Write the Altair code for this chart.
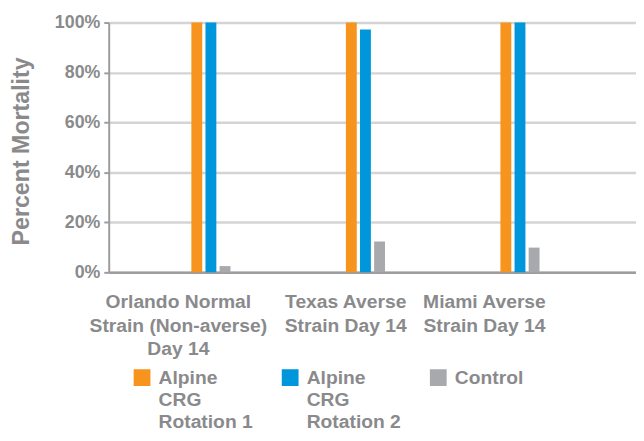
import json
import altair as alt
import pandas as pd

strain_lines = [
    ["Orlando Normal", "Strain (Non-averse)", "Day 14"],
    ["Texas Averse", "Strain Day 14"],
    ["Miami Averse", "Strain Day 14"],
]
strains = [" ".join(l) for l in strain_lines]
series = ["Alpine CRG Rotation 1", "Alpine CRG Rotation 2", "Control"]
colors = ["#F7941E", "#0096DB", "#A7A9AC"]

rotation1 = [1.00, 1.00, 1.00]
rotation2 = [1.00, 0.972, 1.00]
control = [0.025, 0.123, 0.099]

rows = []
for i, s in enumerate(strains):
    for name, vals in zip(series, [rotation1, rotation2, control]):
        rows.append({"strain": s, "series": name, "value": vals[i]})
df = pd.DataFrame(rows)

label_expr = ""
for s, lines in zip(strains, strain_lines):
    label_expr += f"datum.label == {json.dumps(s)} ? {json.dumps(lines)} : "
label_expr += "datum.label"

FONT = "Liberation Sans"
TXT = "#8a8a8c"

chart = alt.Chart(df).mark_bar().encode(
    x=alt.X(
        "strain:N",
        sort=strains,
        scale=alt.Scale(paddingInner=0.726, paddingOuter=0.569, align=0.4607),
        axis=alt.Axis(
            title=None,
            labelAngle=0,
            labelAlign="center",
            labelBaseline="top",
            labelExpr=label_expr,
            labelLineHeight=23.5,
            labelFontSize=19.5,
            labelFontWeight="bold",
            labelFont=FONT,
            labelColor=TXT,
            labelPadding=21,
            labelLimit=0,
            ticks=False,
            tickSize=0,
            domainColor="#9d9d9f",
            domainWidth=2.5,
            grid=False,
            labelOffset={
                "condition": [
                    {"test": f"datum.value == {json.dumps(strains[0])}", "value": -33},
                    {"test": f"datum.value == {json.dumps(strains[2])}", "value": -36},
                ],
                "value": -20,
            },
        ),
    ),
    xOffset=alt.XOffset(
        "series:N", sort=series, scale=alt.Scale(paddingInner=0.23, paddingOuter=0.115)
    ),
    y=alt.Y(
        "value:Q",
        scale=alt.Scale(domain=[0, 1]),
        axis=alt.Axis(
            title="Percent Mortality",
            values=[0, 0.2, 0.4, 0.6, 0.8, 1.0],
            format=".0%",
            labelFontSize=18,
            labelFontWeight="bold",
            labelFont=FONT,
            labelColor=TXT,
            labelPadding=4,
            tickSize=5,
            tickWidth=2,
            tickColor="#9d9d9f",
            domainColor="#9d9d9f",
            domainWidth=2,
            gridColor="#d4d4d6",
            gridWidth=2.5,
            titleFontSize=23.5,
            titleFont=FONT,
            titleFontWeight="bold",
            titleColor=TXT,
            titlePadding=21,
            titleY=130,
        ),
    ),
    color=alt.Color(
        "series:N",
        sort=series,
        scale=alt.Scale(domain=series, range=colors),
        legend=alt.Legend(
            title=None,
            orient="none",
            legendX=24,
            legendY=341,
            direction="horizontal",
            columns=3,
            columnPadding=28,
            padding=0,
            symbolType="M-1,0H1V2H-1Z",
            symbolSize=289,
            symbolStrokeWidth=0,
            symbolOpacity=1,
            labelFont=FONT,
            labelFontSize=19.5,
            labelFontWeight="bold",
            labelColor=TXT,
            labelBaseline="top",
            labelOffset=7,
            labelLimit=0,
            labelExpr="datum.label == 'Control' ? ['Control', ' ', ' '] : ['Alpine', 'CRG', slice(datum.label, 11)]",
        ),
    ),
).properties(
    width=534,
    height=253,
    autosize=alt.AutoSizeParams(type="none"),
    padding={"left": 102, "top": 12, "right": 0, "bottom": 160},
).configure_view(strokeWidth=0).configure(style={"guide-label": {"lineHeight": 22.5}})

chart.save("out.html", embed_options={"renderer": "svg", "actions": False})
